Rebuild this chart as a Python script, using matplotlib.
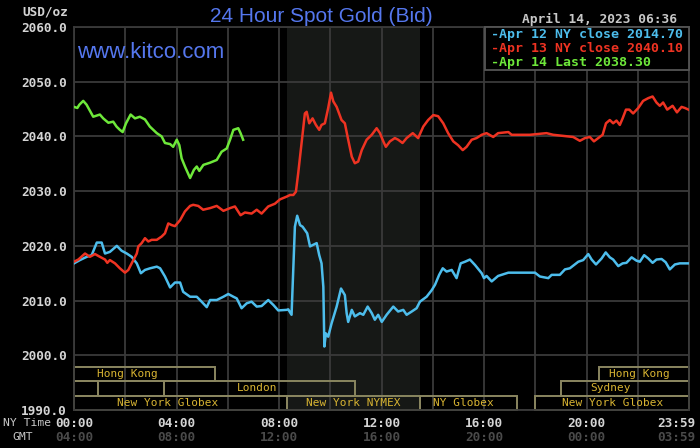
import matplotlib
matplotlib.use("Agg")
import matplotlib.pyplot as plt
from matplotlib.patches import Rectangle
import matplotlib.transforms as mtrans

# ---------------- data ----------------
apr12_t = [0.0, 0.23, 0.50, 0.69, 0.89, 1.08, 1.21, 1.40, 1.67, 1.86, 2.06, 2.25, 2.45, 2.61, 2.77, 2.97,
           3.23, 3.36, 3.55, 3.75, 3.94, 4.14, 4.26, 4.53, 4.79, 4.98, 5.18, 5.31, 5.57, 5.83, 6.02, 6.22,
           6.35, 6.54, 6.74, 6.93, 7.13, 7.32, 7.58, 7.78, 7.97, 8.30, 8.36, 8.49, 8.53, 8.58, 8.62, 8.71,
           8.82, 8.92, 9.01, 9.10, 9.21, 9.34, 9.47, 9.57, 9.66, 9.73, 9.77, 9.83, 9.92, 10.05, 10.25, 10.42,
           10.57, 10.64, 10.70, 10.84, 10.96, 11.16, 11.29, 11.46, 11.62, 11.74, 11.87, 12.01, 12.20, 12.46,
           12.65, 12.85, 12.98, 13.18, 13.37, 13.50, 13.76, 13.96, 14.09, 14.25, 14.39, 14.54, 14.74, 14.93,
           15.09, 15.26, 15.45, 15.65, 15.91, 16.00, 16.10, 16.30, 16.55, 16.95, 17.99, 18.18, 18.51, 18.64,
           18.96, 19.16, 19.35, 19.68, 19.87, 20.07, 20.20, 20.37, 20.59, 20.75, 20.91, 21.04, 21.24, 21.41,
           21.56, 21.76, 21.95, 22.08, 22.25, 22.41, 22.58, 22.73, 22.93, 23.09, 23.25, 23.45, 23.64, 23.98]
apr12_v = [2016.8, 2017.4, 2018.0, 2018.3, 2020.6, 2020.6, 2018.6, 2018.9, 2020.0, 2019.1, 2018.6, 2018.0,
           2016.8, 2015.0, 2015.6, 2015.9, 2016.2, 2015.9, 2014.4, 2012.4, 2013.3, 2013.3, 2011.6, 2010.7,
           2010.7, 2009.8, 2008.8, 2010.1, 2010.1, 2010.7, 2011.2, 2010.7, 2010.4, 2008.6, 2009.5, 2009.8,
           2008.9, 2009.0, 2010.1, 2009.2, 2008.2, 2008.3, 2008.4, 2007.4, 2012.2, 2018.6, 2023.5, 2025.5,
           2023.8, 2023.5, 2022.9, 2022.3, 2019.9, 2020.2, 2020.5, 2018.3, 2016.8, 2012.5, 2001.6, 2004.0,
           2003.4, 2005.8, 2008.9, 2012.2, 2011.0, 2007.7, 2006.1, 2008.3, 2007.1, 2007.7, 2007.4, 2008.9,
           2007.7, 2006.5, 2007.4, 2006.1, 2007.4, 2008.9, 2008.0, 2008.3, 2007.4, 2008.0, 2008.6, 2009.8,
           2010.7, 2011.9, 2012.9, 2014.7, 2015.9, 2015.3, 2015.6, 2014.1, 2016.8, 2017.1, 2017.5, 2016.5,
           2015.0, 2014.1, 2014.5, 2013.5, 2014.5, 2015.1, 2015.1, 2014.4, 2014.1, 2014.7, 2014.7, 2015.7,
           2015.9, 2017.1, 2017.4, 2018.5, 2017.5, 2016.6, 2017.7, 2018.8, 2017.9, 2017.5, 2016.3, 2016.8,
           2016.9, 2017.9, 2017.3, 2017.1, 2018.3, 2017.7, 2016.9, 2017.5, 2017.6, 2017.0, 2015.7, 2016.6,
           2016.8, 2016.8]

apr13_t = [0.0, 0.17, 0.43, 0.62, 0.82, 1.01, 1.21, 1.30, 1.40, 1.60, 1.79, 1.99, 2.12, 2.25, 2.45, 2.51,
           2.64, 2.77, 2.90, 3.03, 3.23, 3.42, 3.55, 3.68, 3.81, 3.94, 4.14, 4.33, 4.53, 4.65, 4.85, 5.04,
           5.31, 5.57, 5.83, 6.09, 6.28, 6.50, 6.67, 6.93, 7.13, 7.32, 7.58, 7.84, 8.04, 8.30, 8.43, 8.56,
           8.66, 8.75, 8.88, 9.01, 9.08, 9.18, 9.31, 9.44, 9.57, 9.66, 9.79, 9.92, 10.03, 10.12, 10.25, 10.44,
           10.57, 10.70, 10.84, 10.96, 11.09, 11.23, 11.42, 11.62, 11.81, 11.94, 12.07, 12.17, 12.33, 12.52,
           12.65, 12.82, 12.98, 13.22, 13.43, 13.63, 13.82, 14.02, 14.21, 14.41, 14.60, 14.80, 14.99, 15.17,
           15.32, 15.52, 15.71, 15.91, 16.10, 16.36, 16.55, 16.95, 17.08, 17.79, 18.44, 18.70, 19.09, 19.48,
           19.74, 19.94, 20.13, 20.29, 20.46, 20.63, 20.76, 20.91, 21.04, 21.17, 21.30, 21.41, 21.54, 21.67,
           21.82, 22.02, 22.21, 22.41, 22.58, 22.73, 22.86, 22.99, 23.15, 23.36, 23.53, 23.71, 23.84, 23.98]
apr13_v = [2017.1, 2017.5, 2018.6, 2018.0, 2018.5, 2018.0, 2017.5, 2016.9, 2017.4, 2016.8, 2015.9, 2015.1,
           2015.6, 2016.8, 2018.6, 2019.9, 2020.5, 2021.4, 2020.8, 2021.1, 2021.1, 2021.7, 2022.3, 2024.1,
           2023.8, 2023.6, 2024.7, 2026.3, 2027.3, 2027.5, 2027.3, 2026.6, 2026.9, 2027.3, 2026.4, 2026.9,
           2027.2, 2025.6, 2026.1, 2025.9, 2026.6, 2025.9, 2027.2, 2027.7, 2028.5, 2029.0, 2029.3, 2029.3,
           2029.9, 2033.3, 2038.8, 2044.2, 2044.5, 2042.4, 2043.3, 2042.1, 2041.2, 2042.1, 2042.4, 2045.2,
           2048.0, 2046.4, 2045.4, 2043.0, 2042.4, 2039.4, 2036.3, 2035.1, 2035.4, 2037.5, 2039.4, 2040.3,
           2041.5, 2040.6, 2039.1, 2038.1, 2039.1, 2039.7, 2039.4, 2038.8, 2039.7, 2040.6, 2039.7, 2041.8,
           2043.0, 2043.9, 2043.7, 2042.4, 2040.6, 2039.1, 2038.4, 2037.5, 2038.1, 2039.4, 2039.7, 2040.3,
           2040.6, 2039.9, 2040.6, 2040.8, 2040.3, 2040.3, 2040.6, 2040.3, 2040.1, 2039.9, 2039.2, 2039.7,
           2039.9, 2039.1, 2039.7, 2040.3, 2042.4, 2043.0, 2042.4, 2042.9, 2042.1, 2043.3, 2044.9, 2044.9,
           2044.2, 2045.2, 2046.5, 2047.0, 2047.3, 2046.2, 2045.6, 2046.2, 2044.9, 2045.6, 2044.4, 2045.4,
           2045.2, 2044.9]

apr14_t = [0.0, 0.13, 0.21, 0.36, 0.49, 0.75, 1.01, 1.14, 1.34, 1.53, 1.66, 1.79, 1.90, 2.03, 2.21, 2.38,
           2.57, 2.77, 2.96, 3.23, 3.42, 3.55, 3.75, 3.87, 4.01, 4.11, 4.20, 4.33, 4.53, 4.68, 4.79, 4.89,
           5.05, 5.31, 5.57, 5.76, 5.96, 6.09, 6.22, 6.41, 6.50, 6.60]
apr14_v = [2045.4, 2045.2, 2045.8, 2046.5, 2045.8, 2043.6, 2044.0, 2043.3, 2042.5, 2042.7, 2041.8, 2041.2,
           2040.8, 2042.4, 2044.0, 2043.3, 2043.6, 2043.1, 2041.8, 2040.6, 2040.0, 2038.8, 2038.6, 2038.1,
           2039.4, 2038.4, 2036.0, 2034.5, 2032.4, 2033.9, 2034.5, 2033.7, 2034.8, 2035.2, 2035.7, 2037.2,
           2037.8, 2039.4, 2041.2, 2041.5, 2040.6, 2039.4]

legend_labels = ["-Apr 12 NY close 2014.70", "-Apr 13 NY close 2040.10", "-Apr 14 Last 2038.30"]

y_ticks = [1990, 2000, 2010, 2020, 2030, 2040, 2050, 2060]
x_tick_pos = [0, 4, 8, 12, 16, 20, 24]
ny_labels = ["00:00", "04:00", "08:00", "12:00", "16:00", "20:00", "23:59"]
gmt_labels = ["04:00", "08:00", "12:00", "16:00", "20:00", "00:00", "03:59"]

# trading sessions: name, start, end, row (0 = top), label centre
sess_names = ["Hong Kong", "Hong Kong", "", "", "London", "Sydney",
              "New York Globex", "New York NYMEX", "NY Globex", "New York Globex"]
sess_start = [0.0, 20.5, 0.0, 0.95, 3.5, 19.0, 0.0, 8.33, 13.5, 18.0]
sess_end = [5.5, 24.0, 0.95, 3.5, 10.95, 24.0, 8.33, 13.5, 17.3, 24.0]
sess_row = [0, 0, 1, 1, 1, 1, 2, 2, 2, 2]
sess_label_x = [2.1, 22.05, 0, 0, 7.15, 20.95, 3.65, 10.9, 15.2, 21.0]

nymex_span = (8.33, 13.5)

# ---------------- style ----------------
BG = "#000000"
GRID = "#3a3a3a"
BLUE = "#4dbdec"
RED = "#ee3322"
GREEN = "#6ee83a"
TITLE_BLUE = "#5577ee"
MONO = "DejaVu Sans Mono"
SESS_EDGE = "#8a8660"
SESS_TEXT = "#d8b432"

fig = plt.figure(figsize=(7.0, 4.48), dpi=100, facecolor=BG)
W, H = 700, 448
ax = fig.add_axes([74 / W, (H - 410) / H, 615 / W, 383 / H], facecolor=BG)
ax.set_xlim(0, 24)
ax.set_ylim(1990, 2060)

ax.axvspan(*nymex_span, color="#161816", zorder=0, lw=0)

for xv in range(0, 25, 2):
    ax.axvline(xv, color=GRID, lw=1.3, zorder=1)
for yv in y_ticks:
    ax.axhline(yv, color=GRID, lw=1.3, zorder=1)

for s in ax.spines.values():
    s.set_color(GRID)
    s.set_linewidth(1.3)

# session boxes
row_h = 10.0 / 3.8
row_top = 1990 + 3 * row_h
for name, st, en, r, lx in zip(sess_names, sess_start, sess_end, sess_row, sess_label_x):
    y0 = row_top - (r + 1) * row_h
    ax.add_patch(Rectangle((st, y0), en - st, row_h, fill=False, edgecolor=SESS_EDGE,
                           lw=1.4, zorder=2, clip_on=False))
    if name:
        ax.text(lx, y0 + row_h / 2, name, color=SESS_TEXT, fontsize=8, family=MONO,
                ha="center", va="center", zorder=3)

# lines
ax.plot(apr12_t, apr12_v, color=BLUE, lw=1.8, zorder=4)
ax.plot(apr13_t, apr13_v, color=RED, lw=1.8, zorder=4)
ax.plot(apr14_t, apr14_v, color=GREEN, lw=1.8, zorder=4)

# ticks
ax.set_yticks(y_ticks)
ax.set_yticklabels([f"{v:.1f}" for v in y_ticks], family=MONO, fontweight="bold",
                   fontsize=9.2, color="#d4d4d4")
ax.tick_params(axis="y", length=0, pad=5)
ax.set_xticks([])

trans = mtrans.blended_transform_factory(ax.transData, fig.transFigure)
for i, (p, a, b) in enumerate(zip(x_tick_pos, ny_labels, gmt_labels)):
    if i == len(x_tick_pos) - 1:
        tr = mtrans.offset_copy(trans, fig=fig, x=6, y=0, units="dots")
        ha = "right"
    else:
        tr = trans
        ha = "center"
    fig.text(p, (H - 423) / H, a, transform=tr, ha=ha, va="center", family=MONO,
             fontweight="bold", fontsize=9.2, color="#d4d4d4")
    fig.text(p, (H - 437) / H, b, transform=tr, ha=ha, va="center", family=MONO,
             fontweight="bold", fontsize=9.2, color="#4a4a4a")

fig.text(3 / W, (H - 423) / H, "NY Time", ha="left", va="center", family=MONO,
         fontsize=8.2, color="#c8c8c8")
fig.text(12 / W, (H - 437) / H, "GMT", ha="left", va="center", family=MONO,
         fontsize=8.2, color="#c8c8c8")
fig.text(68 / W, (H - 12) / H, "USD/oz", ha="right", va="center", family=MONO,
         fontweight="bold", fontsize=9.2, color="#d4d4d4")

# title and texts
fig.text(321 / W, (H - 22) / H, "24 Hour Spot Gold (Bid)", ha="center", va="baseline",
         family="Liberation Sans", fontsize=15, color=TITLE_BLUE)
fig.text(77 / W, (H - 58) / H, "www.kitco.com", ha="left", va="baseline",
         family="Liberation Sans", fontsize=16, color=TITLE_BLUE, zorder=5)
fig.text(677 / W, (H - 23) / H, "April 14, 2023 06:36", ha="right", va="baseline",
         family=MONO, fontweight="bold", fontsize=9.3, color="#c8c8c8")

# legend box
ax.add_patch(Rectangle(((485 - 74) / 615, (410 - 70) / 383), (689 - 485) / 615, (70 - 27) / 383,
                       transform=ax.transAxes, facecolor=BG, edgecolor="#555555", lw=1.3,
                       zorder=6, clip_on=False))
for lab, col, yb in zip(legend_labels, [BLUE, RED, GREEN], [38, 52, 66]):
    fig.text(491 / W, (H - yb) / H, lab, ha="left", va="baseline", family=MONO,
             fontweight="bold", fontsize=9.5, color=col, zorder=7)

fig.savefig("out.png", dpi=100, facecolor=BG)
